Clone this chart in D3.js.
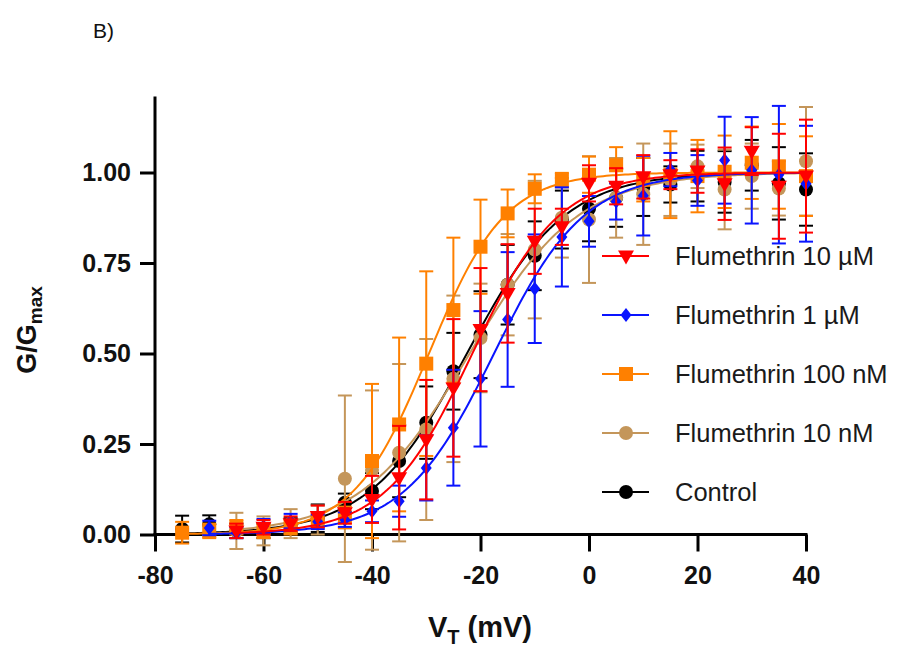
<!DOCTYPE html>
<html><head><meta charset="utf-8">
<script src="https://cdn.jsdelivr.net/npm/d3@7/dist/d3.min.js"></script>
<style>body{margin:0;background:#fff}svg{display:block}</style>
</head><body>
<script>
// ---------- DATA ----------
const voltages = [-75,-70,-65,-60,-55,-50,-45,-40,-35,-30,-25,-20,-15,-10,-5,0,5,10,15,20,25,30,35,40];
const xTicks = [-80,-60,-40,-20,0,20,40];
const yTicks = [0,0.25,0.5,0.75,1.0];

const controlMean = [0.015,0.028,0.01,0.01,0.025,0.045,0.088,0.12,0.203,0.309,0.451,0.552,0.69,0.77,0.87,0.90,0.93,0.96,0.967,0.99,0.974,1.02,0.97,0.953];
const controlSem  = [0.037,0.025,0.02,0.02,0.02,0.038,0.025,0.05,0.10,0.10,0.106,0.12,0.11,0.095,0.08,0.09,0.08,0.08,0.05,0.07,0.085,0.07,0.10,0.10];

const nM10Mean = [null,null,0.01,0.01,0.03,0.04,0.154,0.178,0.226,0.29,0.43,0.543,0.69,0.787,0.875,0.87,0.93,0.94,0.98,1.017,0.953,0.99,0.956,1.031];
const nM10Sem  = [null,null,0.05,0.04,0.04,0.04,0.23,0.22,0.245,0.25,0.23,0.15,0.14,0.19,0.11,0.175,0.11,0.14,0.10,0.06,0.11,0.09,0.075,0.15];

const nM100Mean = [0.005,0.01,0.02,0.01,0.02,0.04,0.047,0.203,0.304,0.472,0.62,0.795,0.887,0.955,0.979,0.994,1.02,0.98,0.994,0.99,1.002,1.027,1.017,0.99];
const nM100Sem  = [0.03,0.02,0.02,0.02,0.02,0.02,0.03,0.213,0.24,0.255,0.2,0.13,0.066,0.04,0.02,0.05,0.05,0.06,0.12,0.10,0.10,0.10,0.117,0.11];

const uM1Mean = [null,0.018,0.005,0.023,0.037,0.035,0.041,0.064,0.092,0.184,0.295,0.43,0.594,0.679,0.822,0.865,0.92,0.936,1.008,0.978,1.034,1.006,0.994,0.969];
const uM1Sem  = [null,0.02,0.015,0.02,0.02,0.02,0.02,0.03,0.043,0.09,0.16,0.187,0.186,0.15,0.137,0.07,0.05,0.11,0.046,0.07,0.12,0.147,0.19,0.16];

const uM10Mean = [null,null,0.01,0.02,0.03,0.05,0.06,0.097,0.157,0.262,0.405,0.566,0.666,0.81,0.85,0.97,0.962,0.988,0.994,1.004,0.969,1.059,0.962,0.99];
const uM10Sem  = [null,null,0.02,0.02,0.02,0.03,0.03,0.065,0.143,0.165,0.19,0.17,0.136,0.09,0.05,0.05,0.05,0.06,0.04,0.06,0.10,0.066,0.145,0.156];

// Boltzmann fit parameters (V50 in mV, slope k in mV)
const fitV50   = {control:-22.5, nM10:-22.0, nM100:-29.5, uM1:-17.5, uM10:-21.5};
const fitSlope = {control:9.0,   nM10:10.0,  nM100:7.0,   uM1:8.3,   uM10:8.0};

const legendLabels = ["Flumethrin 10 µM","Flumethrin 1 µM","Flumethrin 100 nM","Flumethrin 10 nM","Control"];

// ---------- STYLE ----------
const series = [
  {key:"control", mean:controlMean, sem:controlSem, color:"#000000", symbol:"circle"},
  {key:"nM10",    mean:nM10Mean,    sem:nM10Sem,    color:"#C4965A", symbol:"circle"},
  {key:"nM100",   mean:nM100Mean,   sem:nM100Sem,   color:"#FF8000", symbol:"square"},
  {key:"uM1",     mean:uM1Mean,     sem:uM1Sem,     color:"#0A14FF", symbol:"diamond"},
  {key:"uM10",    mean:uM10Mean,    sem:uM10Sem,    color:"#FF0000", symbol:"triangle"}
];
const legendOrder = ["uM10","uM1","nM100","nM10","control"];

const W = 900, H = 651;
const FONT = "'Liberation Sans', Arial, Helvetica, sans-serif";
const svg = d3.select("body").append("svg").attr("width",W).attr("height",H);

const x = d3.scaleLinear().domain([-80,40]).range([155,806]);
const y = d3.scaleLinear().domain([0,1]).range([534.5,172.5]);

// panel label
svg.append("text").attr("x",93).attr("y",38).attr("font-family",FONT)
  .attr("font-size",21).attr("fill","#111").text("B)");

// axes
const xAxis = svg.append("g").attr("transform",`translate(0,${y(0)})`)
  .call(d3.axisBottom(x).tickValues(xTicks).tickSize(17).tickPadding(15).tickFormat(d3.format("d")));
const yAxis = svg.append("g").attr("transform",`translate(${x(-80)},0)`)
  .call(d3.axisLeft(y).tickValues(yTicks).tickSize(15).tickPadding(9).tickFormat(d3.format(".2f")));
yAxis.select(".domain").remove();
xAxis.select(".domain").remove();
[xAxis,yAxis].forEach(g=>{
  g.selectAll(".tick line").attr("stroke","#000").attr("stroke-width",3);
  g.selectAll(".tick text").attr("font-family",FONT).attr("font-weight","bold")
    .attr("font-size",25).attr("fill","#111");
});
xAxis.selectAll(".tick text").text(d=>d<0?"-"+Math.abs(d):d);
svg.append("line").attr("x1",x(-80)).attr("x2",x(-80)).attr("y1",y(1.21)).attr("y2",y(0)+1.5)
  .attr("stroke","#000").attr("stroke-width",3);
svg.append("line").attr("x1",x(-80)-1.5).attr("x2",x(40)+1.5).attr("y1",y(0)).attr("y2",y(0))
  .attr("stroke","#000").attr("stroke-width",3);

// axis titles
const yt = svg.append("text").attr("transform",`translate(36,${330}) rotate(-90)`)
  .attr("text-anchor","middle").attr("font-family",FONT).attr("font-weight","bold")
  .attr("font-size",27).attr("fill","#111");
yt.append("tspan").text("G/G");
yt.append("tspan").attr("font-size",19).attr("dy",6).text("max");

const xt = svg.append("text").attr("x",480).attr("y",637)
  .attr("text-anchor","middle").attr("font-family",FONT).attr("font-weight","bold")
  .attr("font-size",29).attr("fill","#111");
xt.append("tspan").text("V");
xt.append("tspan").attr("font-size",20).attr("dy",7).text("T");
xt.append("tspan").attr("dy",-7).text(" (mV)");

// symbols
function drawSymbol(g, type, color, cx, cy){
  if(type==="circle"){
    g.append("circle").attr("cx",cx).attr("cy",cy).attr("r",7).attr("fill",color);
  } else if(type==="square"){
    g.append("rect").attr("x",cx-7).attr("y",cy-7).attr("width",14).attr("height",14).attr("fill",color);
  } else if(type==="diamond"){
    g.append("path").attr("d",`M${cx},${cy-7}L${cx+5.5},${cy}L${cx},${cy+7}L${cx-5.5},${cy}Z`).attr("fill",color);
  } else if(type==="triangle"){
    g.append("path").attr("d",`M${cx-8},${cy-5.5}L${cx+8},${cy-5.5}L${cx},${cy+8.5}Z`).attr("fill",color);
  }
}

const boltz = (v,k)=>V=>1/(1+Math.exp((v-V)/k));
const line = d3.line().x(d=>x(d[0])).y(d=>y(d[1])).curve(d3.curveLinear);

series.forEach(s=>{
  const g = svg.append("g");
  const pts = voltages.map((v,i)=>({v, m:s.mean[i], e:s.sem[i]})).filter(d=>d.m!=null);
  const v0 = pts[0].v;
  const f = boltz(fitV50[s.key], fitSlope[s.key]);
  const curve = d3.range(0,201).map(i=>{const V=v0+(40-v0)*i/200; return [V,f(V)];});
  pts.forEach(d=>{
    const cx=x(d.v), yt=y(d.m+d.e), yb=y(d.m-d.e);
    g.append("line").attr("x1",cx).attr("x2",cx).attr("y1",yt).attr("y2",yb).attr("stroke",s.color).attr("stroke-width",2);
    [yt,yb].forEach(yy=>g.append("line").attr("x1",cx-7).attr("x2",cx+7).attr("y1",yy).attr("y2",yy).attr("stroke",s.color).attr("stroke-width",2));
  });
  g.append("path").attr("d",line(curve)).attr("fill","none").attr("stroke",s.color).attr("stroke-width",2);
  pts.forEach(d=>drawSymbol(g,s.symbol,s.color,x(d.v),y(d.m)));
});

// legend
const lg = svg.append("g");
legendOrder.forEach((k,i)=>{
  const s = series.find(d=>d.key===k);
  const yy = 256 + i*59;
  lg.append("line").attr("x1",602).attr("x2",649).attr("y1",yy).attr("y2",yy).attr("stroke",s.color).attr("stroke-width",2);
  drawSymbol(lg,s.symbol,s.color,626,yy);
  lg.append("text").attr("x",675).attr("y",yy+9).attr("font-family",FONT).attr("font-size",25.5)
    .attr("fill","#1a1a1a").text(legendLabels[i]);
});
</script>
</body></html>
